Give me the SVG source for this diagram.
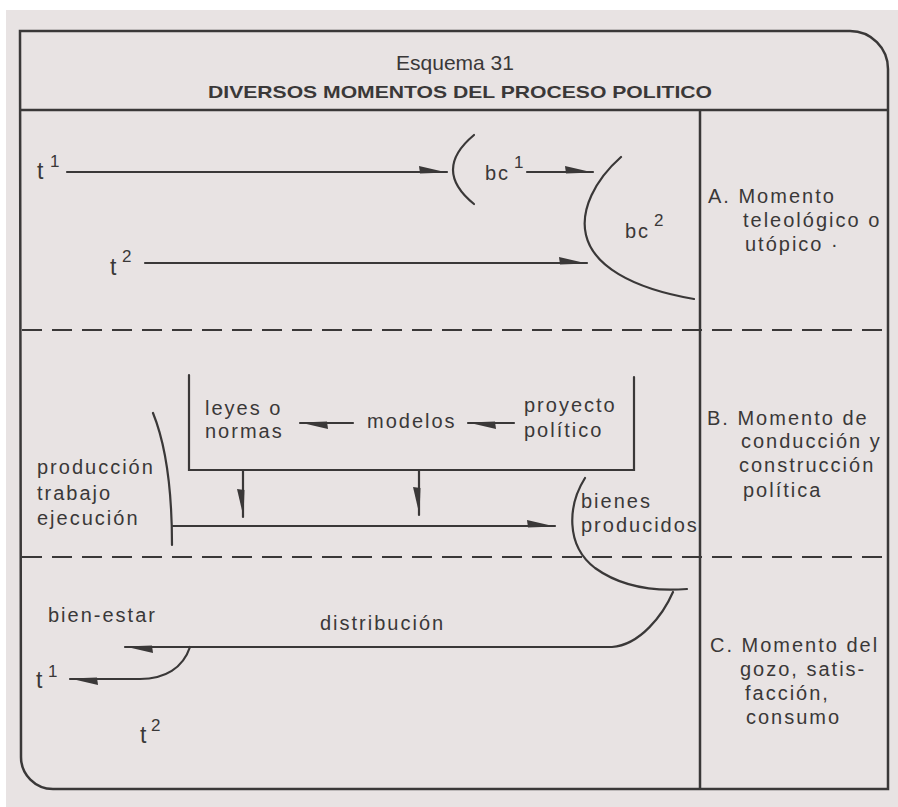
<svg xmlns="http://www.w3.org/2000/svg" width="898" height="807" viewBox="0 0 898 807">
<style>
.ln{fill:none;stroke:#3a3838;stroke-width:2.2;stroke-linecap:round}
.frame{fill:none;stroke:#3a3838;stroke-width:2.5}
.dash{fill:none;stroke:#3a3838;stroke-width:2;stroke-dasharray:20 10}
.tx{font-family:"Liberation Sans","DejaVu Sans",sans-serif;font-size:20px;letter-spacing:2px;fill:#3a3838}
.tt{font-family:"Liberation Sans","DejaVu Sans",sans-serif;font-size:23px;fill:#3a3838}
.sup{font-family:"Liberation Sans","DejaVu Sans",sans-serif;font-size:17px;fill:#3a3838}
.ti{font-family:"Liberation Sans","DejaVu Sans",sans-serif;fill:#3a3838}
</style>
<defs>
<marker id="hp" markerUnits="userSpaceOnUse" orient="auto" refX="0" refY="0" markerWidth="40" markerHeight="20" style="overflow:visible">
<path d="M0,0.5 L-28,-6 L-27,1.5 Z" fill="#3a3838"/>
</marker>
<marker id="hd" markerUnits="userSpaceOnUse" orient="auto" refX="0" refY="0" markerWidth="40" markerHeight="20" style="overflow:visible">
<path d="M0,-0.5 L-28,6 L-27,-1.5 Z" fill="#3a3838"/>
</marker>
</defs>
<rect x="0" y="0" width="898" height="807" fill="#ffffff"/>
<rect x="6" y="10" width="892" height="797" fill="#e8e3e3"/>

<g id="frame">
<path class="frame" d="M20,31 H850 A38,38 0 0 1 888,69 V789 H53 A32,32 0 0 1 21,757 Z"/>
<line class="frame" x1="20" y1="110" x2="888" y2="110"/>
<line class="frame" x1="700" y1="110" x2="700" y2="789"/>
<line class="dash" x1="22" y1="330" x2="886" y2="330"/>
<line class="dash" x1="22" y1="557" x2="886" y2="557"/>
</g>

<g id="title">
<text class="ti" x="455" y="70" font-size="21" text-anchor="middle" textLength="118" lengthAdjust="spacingAndGlyphs">Esquema 31</text>
<text class="ti" x="460" y="98" font-size="17" font-weight="bold" text-anchor="middle" textLength="504" lengthAdjust="spacingAndGlyphs">DIVERSOS MOMENTOS DEL PROCESO POLITICO</text>
</g>

<g id="connectors">
<path class="ln" d="M67,172 L447,172" marker-end="url(#hp)"/>
<path class="ln" d="M527,172 L593,172" marker-end="url(#hp)"/>
<path class="ln" d="M145,263 L587,263" marker-end="url(#hp)"/>
<path class="ln" d="M353,423 L300,423" marker-end="url(#hp)"/>
<path class="ln" d="M514,423 L468,423" marker-end="url(#hp)"/>
<path class="ln" d="M243,470 L243,517" marker-end="url(#hd)"/>
<path class="ln" d="M419,470 L419,515" marker-end="url(#hd)"/>
<path class="ln" d="M173,526 L555,526" marker-end="url(#hp)"/>
<path class="ln" d="M673,592 C663,615 640,645 612,647 L125,647" marker-end="url(#hp)"/>
<path class="ln" d="M190,647 C183,668 165,679 140,679 L70,679" marker-end="url(#hp)"/>
</g>

<g id="bc1">
<path class="ln" d="M474,135 Q432,170 474,204"/>
<text class="tx" x="485" y="180" letter-spacing="1">bc</text>
<text class="sup" x="514" y="168">1</text>
</g>
<g id="bc2">
<path class="ln" d="M621,157 C595,180 580,210 586,235 C593,265 630,288 694,299"/>
<text class="tx" x="625" y="238" letter-spacing="1">bc</text>
<text class="sup" x="654" y="226">2</text>
</g>
<g id="t1a"><text class="tt" x="37" y="179">t</text><text class="sup" x="50" y="167">1</text></g>
<g id="t2a"><text class="tt" x="110" y="275">t</text><text class="sup" x="122" y="262">2</text></g>

<g id="momentoA">
<text class="tx" x="708" y="203">A. Momento</text>
<text class="tx" x="743" y="227">teleológico o</text>
<text class="tx" x="745" y="251">utópico  ·</text>
</g>

<g id="proyectoBox">
<path class="ln" d="M189,375 V470 H634 V377"/>
<text class="tx" x="205" y="415">leyes o</text>
<text class="tx" x="205" y="438">normas</text>
<text class="tx" x="367" y="428">modelos</text>
<text class="tx" x="524" y="412">proyecto</text>
<text class="tx" x="524" y="437">político</text>
</g>

<g id="produccion">
<path class="ln" d="M153,413 Q172,460 172,545"/>
<text class="tx" x="37" y="474">producción</text>
<text class="tx" x="37" y="500">trabajo</text>
<text class="tx" x="37" y="525">ejecución</text>
</g>

<g id="bienes">
<path class="ln" d="M585,478 C568,505 565,545 595,568 C620,586 650,592 687,589"/>
<text class="tx" x="581" y="508">bienes</text>
<text class="tx" x="581" y="532" letter-spacing="1.6">producidos</text>
</g>

<g id="momentoB">
<text class="tx" x="707" y="425">B. Momento de</text>
<text class="tx" x="741" y="448">conducción y</text>
<text class="tx" x="739" y="472">construcción</text>
<text class="tx" x="743" y="497">política</text>
</g>

<g id="distribucion">
<text class="tx" x="320" y="630">distribución</text>
<text class="tx" x="48" y="622">bien-estar</text>
</g>
<g id="t1c"><text class="tt" x="36" y="688">t</text><text class="sup" x="48" y="677">1</text></g>
<g id="t2c"><text class="tt" x="140" y="743">t</text><text class="sup" x="151" y="731">2</text></g>

<g id="momentoC">
<text class="tx" x="710" y="652">C. Momento del</text>
<text class="tx" x="740" y="676">gozo, satis-</text>
<text class="tx" x="745" y="700">facción,</text>
<text class="tx" x="746" y="724">consumo</text>
</g>
</svg>
